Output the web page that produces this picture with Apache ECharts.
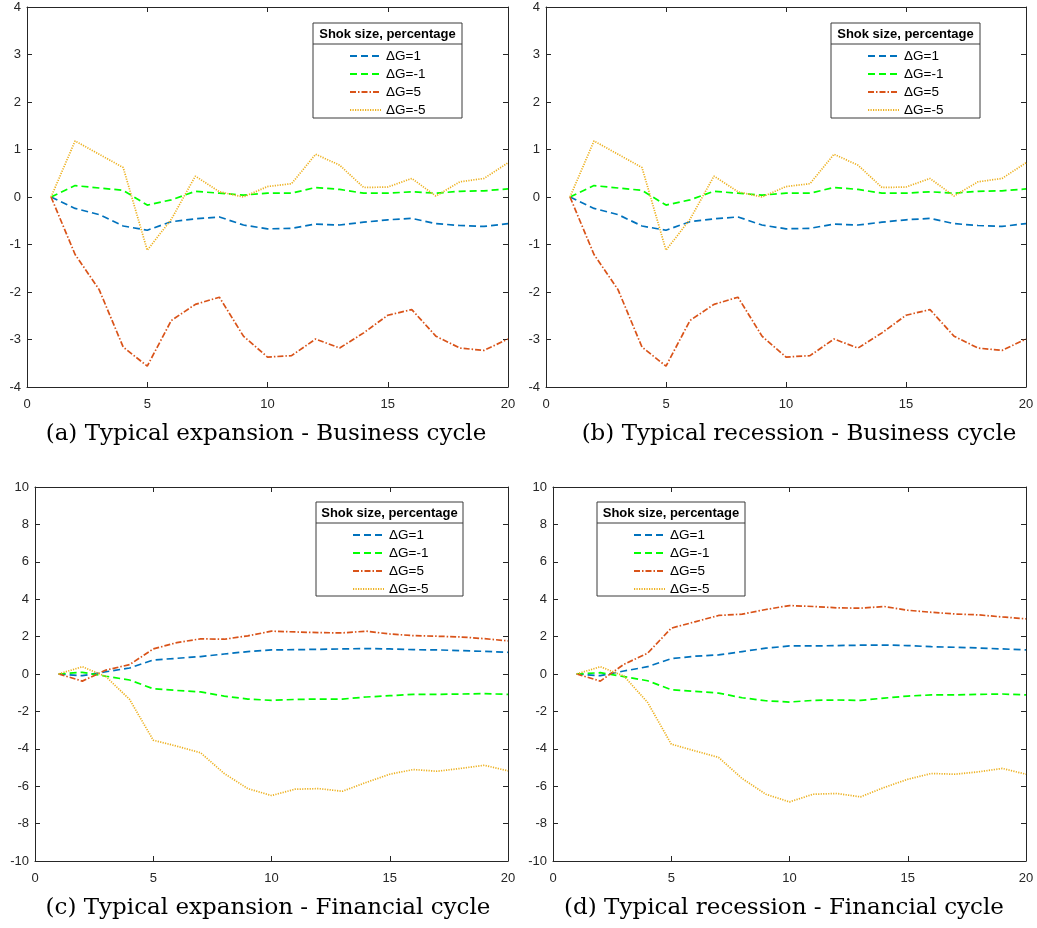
<!DOCTYPE html>
<html>
<head>
<meta charset="utf-8">
<script src="https://cdn.jsdelivr.net/npm/echarts@6/dist/echarts.min.js"></script>
<style>
  html, body { margin: 0; padding: 0; background: #fff; }
  #chart { width: 1037px; height: 928px; }
</style>
</head>
<body>
<div id="chart"></div>
<script>
// Impulse responses over 20 periods for four shock sizes
const steps = [1, 2, 3, 4, 5, 6, 7, 8, 9, 10, 11, 12, 13, 14, 15, 16, 17, 18, 19, 20];
const shockNames = ['ΔG=1', 'ΔG=-1', 'ΔG=5', 'ΔG=-5'];

// Business cycle, typical expansion
const bizExpPos1 = [0, -0.24, -0.37, -0.61, -0.70, -0.52, -0.46, -0.42, -0.59, -0.67, -0.66, -0.57, -0.59, -0.53, -0.48, -0.45, -0.56, -0.60, -0.62, -0.56];
const bizExpNeg1 = [0, 0.24, 0.19, 0.14, -0.17, -0.06, 0.12, 0.08, 0.04, 0.08, 0.08, 0.20, 0.16, 0.08, 0.08, 0.11, 0.08, 0.12, 0.13, 0.17];
const bizExpPos5 = [0, -1.21, -1.95, -3.16, -3.56, -2.60, -2.26, -2.11, -2.93, -3.37, -3.34, -2.99, -3.18, -2.86, -2.49, -2.37, -2.93, -3.18, -3.23, -2.99];
const bizExpNeg5 = [0, 1.18, 0.90, 0.62, -1.12, -0.47, 0.44, 0.11, 0.00, 0.22, 0.28, 0.90, 0.67, 0.20, 0.21, 0.39, 0.02, 0.32, 0.39, 0.72];

// Business cycle, typical recession
const bizRecPos1 = [0, -0.24, -0.37, -0.61, -0.70, -0.52, -0.46, -0.42, -0.59, -0.67, -0.66, -0.57, -0.59, -0.53, -0.48, -0.45, -0.56, -0.60, -0.62, -0.56];
const bizRecNeg1 = [0, 0.24, 0.19, 0.14, -0.17, -0.06, 0.12, 0.08, 0.04, 0.08, 0.08, 0.20, 0.16, 0.08, 0.08, 0.11, 0.08, 0.12, 0.13, 0.17];
const bizRecPos5 = [0, -1.21, -1.95, -3.16, -3.56, -2.60, -2.26, -2.11, -2.93, -3.37, -3.34, -2.99, -3.18, -2.86, -2.49, -2.37, -2.93, -3.18, -3.23, -2.99];
const bizRecNeg5 = [0, 1.18, 0.90, 0.62, -1.12, -0.47, 0.44, 0.11, 0.00, 0.22, 0.28, 0.90, 0.67, 0.20, 0.21, 0.39, 0.02, 0.32, 0.39, 0.72];

// Financial cycle, typical expansion
const finExpPos1 = [0, -0.09, 0.12, 0.32, 0.75, 0.84, 0.93, 1.07, 1.20, 1.29, 1.30, 1.32, 1.34, 1.36, 1.34, 1.30, 1.29, 1.25, 1.21, 1.16];
const finExpNeg1 = [0, 0.09, -0.12, -0.32, -0.79, -0.88, -0.96, -1.18, -1.34, -1.41, -1.36, -1.34, -1.34, -1.23, -1.16, -1.09, -1.09, -1.07, -1.05, -1.09];
const finExpPos5 = [0, -0.38, 0.21, 0.50, 1.34, 1.68, 1.88, 1.86, 2.04, 2.29, 2.25, 2.21, 2.20, 2.29, 2.14, 2.05, 2.02, 1.98, 1.89, 1.77];
const finExpNeg5 = [0, 0.39, -0.14, -1.36, -3.54, -3.86, -4.21, -5.32, -6.13, -6.50, -6.16, -6.13, -6.27, -5.80, -5.36, -5.11, -5.20, -5.05, -4.88, -5.18];

// Financial cycle, typical recession
const finRecPos1 = [0, -0.09, 0.16, 0.39, 0.82, 0.95, 1.02, 1.20, 1.38, 1.50, 1.50, 1.52, 1.54, 1.55, 1.52, 1.46, 1.43, 1.39, 1.34, 1.29];
const finRecNeg1 = [0, 0.07, -0.14, -0.36, -0.84, -0.93, -1.02, -1.27, -1.43, -1.50, -1.41, -1.39, -1.41, -1.29, -1.18, -1.12, -1.12, -1.09, -1.07, -1.12];
const finRecPos5 = [0, -0.38, 0.52, 1.11, 2.45, 2.79, 3.13, 3.20, 3.45, 3.66, 3.61, 3.54, 3.52, 3.61, 3.41, 3.30, 3.21, 3.16, 3.05, 2.95];
const finRecNeg5 = [0, 0.39, -0.11, -1.52, -3.75, -4.11, -4.46, -5.59, -6.43, -6.84, -6.43, -6.39, -6.57, -6.07, -5.63, -5.32, -5.36, -5.23, -5.05, -5.36];

const captions = [
  '(a) Typical expansion - Business cycle',
  '(b) Typical recession - Business cycle',
  '(c) Typical expansion - Financial cycle',
  '(d) Typical recession - Financial cycle'
];
const legendTitle = 'Shok size, percentage';

const xTicks = { min: 0, max: 20, interval: 5 };
const yTicksBiz = { min: -4, max: 4, interval: 1 };
const yTicksFin = { min: -10, max: 10, interval: 2 };

const panelData = [
  [bizExpPos1, bizExpNeg1, bizExpPos5, bizExpNeg5],
  [bizRecPos1, bizRecNeg1, bizRecPos5, bizRecNeg5],
  [finExpPos1, finExpNeg1, finExpPos5, finExpNeg5],
  [finRecPos1, finRecNeg1, finRecPos5, finRecNeg5]
];
const panelY = [yTicksBiz, yTicksBiz, yTicksFin, yTicksFin];

// Layout
const grids = [
  { left: 27, top: 7, width: 481, height: 380 },
  { left: 546, top: 7, width: 480, height: 380 },
  { left: 35, top: 487, width: 473, height: 374 },
  { left: 553, top: 487, width: 473, height: 374 }
];
const captionPos = [[266, 434], [799, 434], [268, 908], [784, 908]];
const legendBoxes = [
  { x: 313, y: 23, w: 149, h: 95 },
  { x: 831, y: 23, w: 149, h: 95 },
  { x: 316, y: 502, w: 147, h: 94 },
  { x: 597, y: 502, w: 148, h: 94 }
];

const lineStyles = [
  { color: '#0072BD', type: [7, 4] },
  { color: '#00FF00', type: [7, 4] },
  { color: '#D95319', type: [6, 2, 1.5, 2] },
  { color: '#EDB120', type: [1.2, 1.3] }
];

const axisColor = '#262626';
const labelFont = { fontFamily: 'Liberation Sans, Arial, sans-serif', fontSize: 13, color: axisColor };

const xAxes = [], yAxes = [], series = [], legends = [], graphics = [];

function frameAxis(extra) {
  return Object.assign({
    type: 'value',
    axisLine: { show: true, onZero: false, lineStyle: { color: axisColor, width: 1 } },
    axisTick: { show: true, inside: true, length: 5, lineStyle: { color: axisColor } },
    splitLine: { show: false }
  }, extra);
}

grids.forEach((g, p) => {
  const yr = panelY[p];
  xAxes.push(frameAxis({ gridIndex: p, position: 'bottom', ...xTicks, axisLabel: { ...labelFont, margin: 11 } }));
  xAxes.push(frameAxis({ gridIndex: p, position: 'top', ...xTicks, axisLabel: { show: false } }));
  yAxes.push(frameAxis({ gridIndex: p, position: 'left', ...yr, axisLabel: { ...labelFont, margin: 6 } }));
  yAxes.push(frameAxis({ gridIndex: p, position: 'right', ...yr, axisLabel: { show: false } }));

  panelData[p].forEach((vals, k) => {
    series.push({
      type: 'line',
      name: shockNames[k],
      xAxisIndex: p * 2,
      yAxisIndex: p * 2,
      data: steps.map((s, i) => [s, vals[i]]),
      symbol: 'none',
      z: 2,
      lineStyle: { color: lineStyles[k].color, width: 1.7, type: lineStyles[k].type },
      itemStyle: { color: lineStyles[k].color }
    });
  });

  // legend frame with header
  const b = legendBoxes[p];
  graphics.push({
    type: 'rect', z: 10,
    shape: { x: b.x, y: b.y, width: b.w, height: b.h },
    style: { fill: '#fff', stroke: '#3a3a3a', lineWidth: 1 }
  });
  graphics.push({
    type: 'line', z: 11,
    shape: { x1: b.x, y1: b.y + 21, x2: b.x + b.w, y2: b.y + 21 },
    style: { stroke: '#3a3a3a', lineWidth: 1 }
  });
  graphics.push({
    type: 'text', z: 11,
    x: b.x + b.w / 2, y: b.y + 11,
    style: {
      text: legendTitle, fill: '#000', align: 'center', verticalAlign: 'middle',
      font: 'bold 13px "Liberation Sans", Arial, sans-serif'
    }
  });

  legends.push({
    data: shockNames,
    orient: 'vertical',
    left: b.x + 36, top: b.y + 26,
    padding: 0,
    itemWidth: 31, itemHeight: 14, itemGap: 4,
    selectedMode: false,
    z: 20,
    itemStyle: { color: 'rgba(0,0,0,0)', borderWidth: 0, opacity: 0 },
    textStyle: { fontFamily: 'Liberation Sans, Arial, sans-serif', fontSize: 13.5, color: '#000', lineHeight: 14 }
  });

  graphics.push({
    type: 'text',
    x: captionPos[p][0], y: captionPos[p][1],
    style: {
      text: captions[p], fill: '#000', align: 'center', verticalAlign: 'middle',
      font: '23px "DejaVu Serif", serif'
    }
  });
});

const chart = echarts.init(document.getElementById('chart'), null, { renderer: 'canvas' });
chart.setOption({
  animation: false,
  backgroundColor: '#fff',
  grid: grids,
  xAxis: xAxes,
  yAxis: yAxes,
  legend: legends,
  series: series,
  graphic: graphics
});
</script>
</body>
</html>
